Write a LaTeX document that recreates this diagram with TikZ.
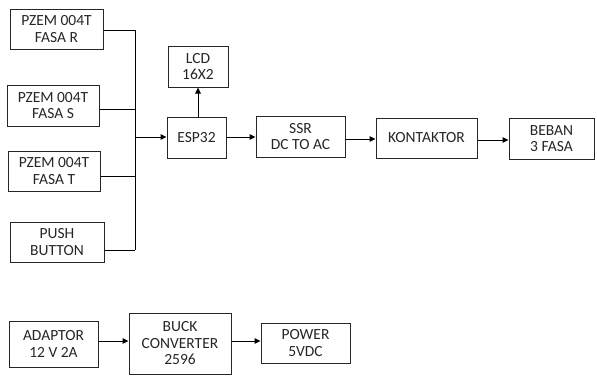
\documentclass[tikz,border=0pt]{standalone}
\usepackage{fontspec}
\setmainfont{Carlito}
\usetikzlibrary{arrows.meta}
\begin{document}
\begin{tikzpicture}[x=1pt,y=-1pt,
  blk/.style={draw=black!85,line width=1pt,align=center,inner sep=0pt,
    font=\fontsize{15.5}{16.5}\selectfont,text=black!85},
  conn/.style={line width=1pt,draw=black},
  arr/.style={conn,-{Triangle[length=6pt,width=5.5pt]}}]
\useasboundingbox (0,0) rectangle (597,375);
\node[blk,minimum width=93pt,minimum height=40pt] (R) at (56.5,29) {PZEM 004T\\FASA R};
\node[blk,minimum width=92pt,minimum height=41pt] (S) at (53,105.5) {PZEM 004T\\FASA S};
\node[blk,minimum width=92pt,minimum height=40pt] (T) at (54,171) {PZEM 004T\\FASA T};
\node[blk,minimum width=94pt,minimum height=40pt] (PB) at (57,242) {PUSH\\BUTTON};
\node[blk,minimum width=59pt,minimum height=41pt] (ESP) at (196.5,137.5) {ESP32};
\node[blk,minimum width=60pt,minimum height=41pt] (LCD) at (198,66.5) {LCD\\16X2};
\node[blk,minimum width=89pt,minimum height=41pt] (SSR) at (300.5,136.5) {SSR\\DC TO AC};
\node[blk,minimum width=101pt,minimum height=40pt] (KON) at (426.5,138) {KONTAKTOR};
\node[blk,minimum width=85pt,minimum height=41pt] (BEB) at (551.5,138.5) {BEBAN\\3 FASA};
\node[blk,minimum width=89pt,minimum height=46pt] (ADP) at (53.5,344) {ADAPTOR\\12 V 2A};
\node[blk,minimum width=102pt,minimum height=61pt] (BUCK) at (180,343.5) {BUCK\\CONVERTER\\2596};
\node[blk,minimum width=89pt,minimum height=40pt] (PWR) at (305.5,343) {POWER\\5VDC};
\coordinate (jR) at (135,30);
\coordinate (jS) at (135,109);
\coordinate (jT) at (135,176);
\coordinate (jP) at (135,250);
\coordinate (jE) at (135,137);
\draw[conn] (R.east|-jR) -- (jR);
\draw[conn] (S.east|-jS) -- (jS);
\draw[conn] (T.east|-jT) -- (jT);
\draw[conn] (PB.east|-jP) -- (jP);
\draw[conn] (jR) -- (jP);
\draw[arr] (jE) -- (ESP.west|-jE);
\draw[arr] (LCD.south|-ESP.north) -- (LCD.south);
\draw[arr] (ESP.east|-jE) -- (SSR.west|-jE);
\coordinate (jK) at (0,139);
\draw[arr] (SSR.east|-jK) -- (KON.west|-jK);
\coordinate (jB) at (0,140);
\draw[arr] (KON.east|-jB) -- (BEB.west|-jB);
\coordinate (jA) at (0,341);
\draw[arr] (ADP.east|-jA) -- (BUCK.west|-jA);
\draw[arr] (BUCK.east|-jA) -- (PWR.west|-jA);
\end{tikzpicture}
\end{document}
